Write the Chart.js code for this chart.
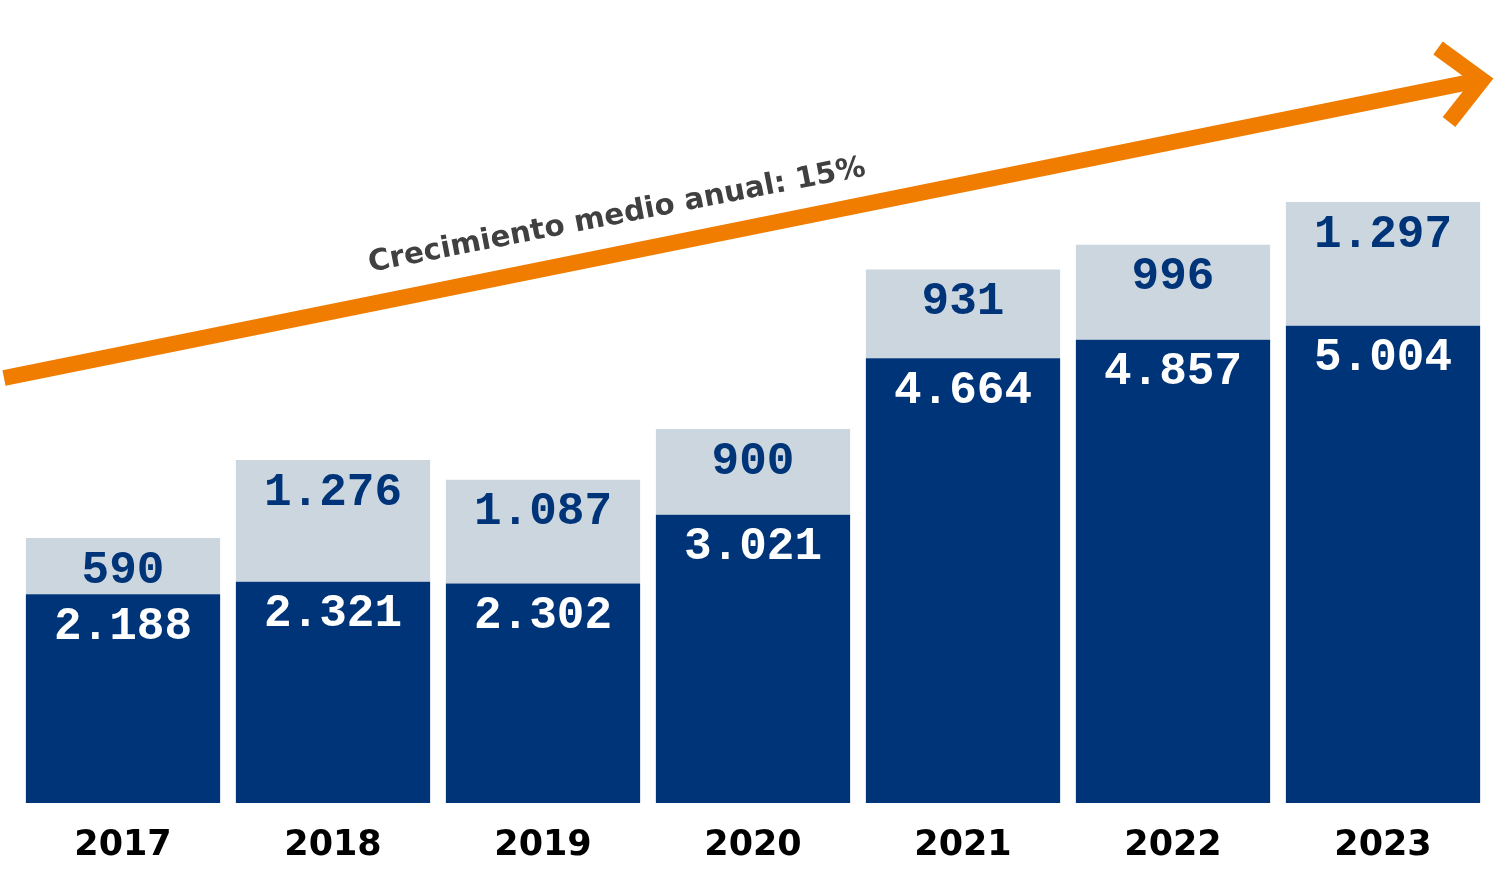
<!DOCTYPE html>
<html>
<head>
<meta charset="utf-8">
<style>
  html, body { margin: 0; padding: 0; background: #fff; }
  #wrap { width: 1500px; height: 887px; }
</style>
<script src="https://cdn.jsdelivr.net/npm/chart.js@4/dist/chart.umd.min.js"></script>
</head>
<body>
<div id="wrap"><canvas id="chart" width="1500" height="887"></canvas></div>
<script>
const years = ['2017', '2018', '2019', '2020', '2021', '2022', '2023'];
const baseValues = [2188, 2321, 2302, 3021, 4664, 4857, 5004];
const extraValues = [590, 1276, 1087, 900, 931, 996, 1297];
const growthLabel = 'Crecimiento medio anual: 15%';

const fmt = (v) => v.toLocaleString('de-DE');

// value labels near the top of each segment
const barLabels = {
  id: 'barLabels',
  afterDatasetsDraw(chart) {
    const ctx = chart.ctx;
    ctx.save();
    ctx.font = 'bold 46px "Liberation Mono", monospace';
    ctx.textAlign = 'center';
    ctx.textBaseline = 'middle';
    chart.data.datasets.forEach((ds, i) => {
      const meta = chart.getDatasetMeta(i);
      meta.data.forEach((bar, j) => {
        ctx.fillStyle = i === 0 ? '#ffffff' : '#003478';
        ctx.fillText(fmt(ds.data[j]), bar.x, bar.y + 33);
      });
    });
    ctx.restore();
  }
};

// orange trend arrow with caption
const trendArrow = {
  id: 'trendArrow',
  afterDraw(chart) {
    const ctx = chart.ctx;
    ctx.save();
    ctx.strokeStyle = '#f07d00';
    ctx.lineWidth = 16;
    ctx.lineCap = 'butt';
    ctx.beginPath();
    ctx.moveTo(4, 378);
    ctx.lineTo(1480, 80);
    ctx.stroke();
    ctx.lineJoin = 'miter';
    ctx.beginPath();
    ctx.moveTo(1438, 48);
    ctx.lineTo(1482, 80);
    ctx.lineTo(1449, 122);
    ctx.stroke();

    ctx.translate(617, 216);
    ctx.rotate(-11 * Math.PI / 180);
    ctx.fillStyle = '#404040';
    ctx.font = 'bold 30px "DejaVu Sans", sans-serif';
    const size = 30 * 505 / ctx.measureText(growthLabel).width;
    ctx.font = 'bold ' + size.toFixed(1) + 'px "DejaVu Sans", sans-serif';
    ctx.textAlign = 'center';
    ctx.textBaseline = 'middle';
    ctx.fillText(growthLabel, 0, 0);
    ctx.restore();
  }
};

new Chart(document.getElementById('chart'), {
  type: 'bar',
  data: {
    labels: years,
    datasets: [
      { data: baseValues, backgroundColor: '#003478' },
      { data: extraValues, backgroundColor: '#ccd6df' }
    ]
  },
  options: {
    responsive: false,
    animation: false,
    layout: { padding: { left: 18, right: 12, top: 40, bottom: 6 } },
    datasets: { bar: { categoryPercentage: 1, barPercentage: 0.925 } },
    plugins: { legend: { display: false }, tooltip: { enabled: false } },
    scales: {
      x: {
        stacked: true,
        grid: { display: false },
        border: { display: false },
        ticks: {
          color: '#000',
          padding: 14,
          font: { family: 'DejaVu Sans', size: 35, weight: 'bold' }
        }
      },
      y: {
        stacked: true,
        display: false,
        min: 0,
        max: 8000
      }
    }
  },
  plugins: [barLabels, trendArrow]
});
</script>
</body>
</html>
